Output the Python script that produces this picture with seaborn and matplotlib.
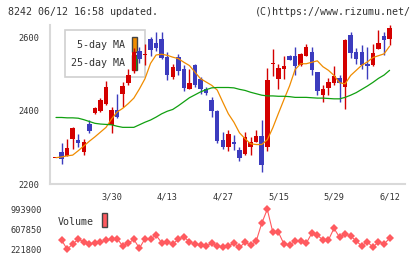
import numpy as np
import pandas as pd
import matplotlib
matplotlib.use("Agg")
import matplotlib.pyplot as plt
from matplotlib.patches import Rectangle
import seaborn as sns

# daily candles, 3/16 .. 6/12
opens = [2271, 2288, 2277, 2322, 2320, 2288, 2365, 2395, 2399, 2420,
         2362, 2402, 2447, 2477, 2508, 2563, 2553, 2596, 2586, 2596,
         2547, 2494, 2547, 2515, 2461, 2525, 2488, 2461, 2429, 2399,
         2320, 2302, 2315, 2294, 2283, 2301, 2315, 2331, 2301, 2529,
         2488, 2514, 2550, 2550, 2526, 2549, 2561, 2506, 2444, 2463,
         2476, 2490, 2465, 2609, 2561, 2561, 2529, 2525, 2570, 2605, 2596]
highs = [2271, 2313, 2324, 2355, 2336, 2324, 2374, 2411, 2435, 2481,
         2411, 2447, 2479, 2515, 2572, 2575, 2584, 2602, 2617, 2617,
         2561, 2529, 2555, 2525, 2515, 2529, 2493, 2465, 2438, 2402,
         2342, 2348, 2333, 2301, 2342, 2329, 2347, 2374, 2517, 2568,
         2529, 2549, 2553, 2575, 2558, 2584, 2575, 2506, 2472, 2490,
         2523, 2499, 2597, 2617, 2572, 2579, 2575, 2582, 2620, 2617, 2634]
lows = [2271, 2256, 2277, 2295, 2301, 2280, 2340, 2392, 2397, 2417,
        2340, 2381, 2411, 2470, 2504, 2530, 2525, 2550, 2563, 2541,
        2484, 2488, 2497, 2454, 2461, 2465, 2447, 2444, 2383, 2313,
        2295, 2291, 2292, 2262, 2280, 2280, 2315, 2233, 2290, 2495,
        2459, 2488, 2538, 2497, 2524, 2549, 2499, 2443, 2424, 2444,
        2472, 2424, 2406, 2545, 2529, 2515, 2488, 2523, 2568, 2552, 2579]
closes = [2271, 2268, 2299, 2353, 2311, 2315, 2344, 2408, 2429, 2465,
          2402, 2383, 2468, 2497, 2561, 2541, 2556, 2566, 2572, 2545,
          2499, 2520, 2508, 2463, 2476, 2470, 2461, 2450, 2399, 2317,
          2301, 2337, 2310, 2271, 2329, 2315, 2331, 2253, 2484, 2532,
          2517, 2523, 2538, 2522, 2555, 2575, 2511, 2454, 2461, 2479,
          2495, 2477, 2593, 2559, 2543, 2526, 2522, 2558, 2586, 2593, 2627]
ma5 = [2272, 2274, 2277, 2279, 2291, 2304, 2317, 2329, 2342, 2355,
       2378, 2397, 2407, 2420, 2435, 2460, 2488, 2530, 2553, 2555,
       2552, 2547, 2543, 2533, 2524, 2506, 2488, 2479, 2470, 2457,
       2424, 2392, 2369, 2340, 2324, 2310, 2308, 2308, 2321, 2354,
       2393, 2431, 2468, 2513, 2529, 2529, 2533, 2537, 2521, 2511,
       2497, 2477, 2474, 2497, 2511, 2525, 2534, 2546, 2551, 2556, 2577]
ma25 = [2382, 2382, 2381, 2381, 2380, 2376, 2371, 2366, 2364, 2363,
        2362, 2358, 2355, 2355, 2355, 2362, 2369, 2375, 2383, 2392,
        2399, 2404, 2414, 2425, 2436, 2444, 2452, 2458, 2463, 2464,
        2464, 2464, 2463, 2459, 2456, 2451, 2447, 2443, 2441, 2441,
        2440, 2440, 2439, 2437, 2437, 2437, 2436, 2435, 2435, 2434,
        2433, 2433, 2437, 2443, 2450, 2459, 2468, 2478, 2489, 2498, 2511]
volume = [np.nan, 401300, 221800, 324100, 414800, 368500, 324100, 349200, 356900, 400000,
          414800, 426400, 285500, 337600, 414800, 241100, 426400, 426400, 492000, 349200,
          362700, 324100, 414800, 465000, 362700, 324100, 299000, 285500, 337600, 285500,
          260400, 285500, 337600, 260400, 356900, 304800, 376200, 723700, 993900, 550000,
          550000, 324100, 304800, 376200, 376200, 337600, 530600, 497800, 401300, 401300,
          627100, 453400, 517100, 478500, 382000, 285500, 368500, 260400, 368500, 324100, 434100]
date_labels = ["3/30", "4/13", "4/27", "5/15", "5/29", "6/12"]
date_pos = [10, 20, 30, 40, 50, 60]
price_ticks = [2200, 2400, 2600]
vol_ticks = [221800, 607850, 993900]

df = pd.DataFrame({"i": np.arange(len(opens)), "open": opens, "high": highs,
                   "low": lows, "close": closes, "ma5": ma5, "ma25": ma25,
                   "volume": volume})

sns.set_style("white")
plt.rcParams["font.family"] = ["DejaVu Sans Mono", "DejaVu Sans"]
txt = "#333333"
axcol = "#d9d9d9"
up, down = "#d40000", "#3c3cbe"
ma5_col, ma25_col, vol_col = "#f08c00", "#10a010", "#ff5a5f"

fig = plt.figure(figsize=(4.2, 2.59), dpi=100)
ax = fig.add_axes([50 / 420, 1 - 184 / 259, 355 / 420, 159 / 259])
vax = fig.add_axes([50 / 420, 1 - 249.3 / 259, 355 / 420, 40 / 259])
ax.set_zorder(2)
ax.patch.set_alpha(0)

xlim = (-1.08, 62.77)

# legend box sits under the candles
def fig_rect(x, y, w, h, fc, ec, lw, z=-1):
    fig.patches.append(Rectangle((x / 420, 1 - (y + h) / 259), w / 420, h / 259,
                                 transform=fig.transFigure, facecolor=fc,
                                 edgecolor=ec, lw=lw, zorder=z))

fig_rect(65, 30, 80, 47, "white", "#d0d0d0", 1.2)
fig_rect(132, 37, 5, 15, ma5_col, "#444444", 1)
fig_rect(132, 55, 5, 15, ma25_col, "#444444", 1)
fig.text(125 / 420, 1 - 45 / 259, "5-day MA", ha="right", va="center",
         fontsize=7.2, color=txt, zorder=-1)
fig.text(125 / 420, 1 - 63 / 259, "25-day MA", ha="right", va="center",
         fontsize=7.2, color=txt, zorder=-1)

# candles
col = np.where(df["close"] >= df["open"], up, down)
ax.vlines(df["i"], df["low"], df["high"], colors=col, lw=1, zorder=3)
body = (df["close"] - df["open"]).abs().clip(lower=2.7)
widths = [1.1] + [0.8] * (len(df) - 1)
ax.bar(df["i"], body, bottom=df[["open", "close"]].min(axis=1), width=widths,
       color=col, zorder=4, linewidth=0)

sns.lineplot(data=df, x="i", y="ma5", ax=ax, color=ma5_col, lw=0.9, zorder=5)
sns.lineplot(data=df, x="i", y="ma25", ax=ax, color=ma25_col, lw=0.9, zorder=5)

ax.set_xlim(xlim)
ax.set_ylim(2200, 2635)
ax.set_xlabel("")
ax.set_ylabel("")
for s in ["top", "right"]:
    ax.spines[s].set_visible(False)
for s in ["left", "bottom"]:
    ax.spines[s].set_color(axcol)
    ax.spines[s].set_linewidth(1.5)
ax.set_yticks(price_ticks)
ax.set_yticklabels([str(t) for t in price_ticks])
ax.tick_params(axis="y", length=4, width=1.2, color=axcol, pad=4,
               labelsize=6.2, labelcolor=txt)
ax.set_xticks(date_pos)
ax.set_xticklabels(date_labels)
ax.set_xticks(np.linspace(xlim[0], xlim[1], 12), minor=True)
ax.tick_params(axis="x", which="major", length=0, pad=6, labelsize=6.2,
               labelcolor=txt)
ax.tick_params(axis="x", which="minor", direction="inout", length=7,
               width=1.2, color=axcol)

# volume
sns.lineplot(data=df, x="i", y="volume", ax=vax, color=vol_col, lw=0.8,
             marker="D", markersize=4.5, markeredgewidth=0, clip_on=False)
vax.set_xlim(xlim)
vax.set_ylim(vol_ticks[0], vol_ticks[-1])
vax.set_xlabel("")
vax.set_ylabel("")
vax.patch.set_alpha(0)
for s in vax.spines.values():
    s.set_visible(False)
vax.set_xticks([])
vax.set_yticks(vol_ticks)
vax.set_yticklabels([str(t) for t in vol_ticks])
vax.tick_params(axis="y", length=0, pad=6, labelsize=6.2, labelcolor=txt)
fig.text(58 / 420, 1 - 222 / 259, "Volume", ha="left", va="center",
         fontsize=7.2, color=txt)
fig_rect(102, 213, 5, 14, vol_col, "#444444", 1, z=1)

fig.text(8 / 420, 1 - 12 / 259, "8242 06/12 16:58 updated.", ha="left",
         va="center", fontsize=7.2, color=txt)
fig.text(411 / 420, 1 - 12 / 259, "(C)https://www.rizumu.net/", ha="right",
         va="center", fontsize=7.2, color=txt)

fig.savefig("out.png", dpi=100)
